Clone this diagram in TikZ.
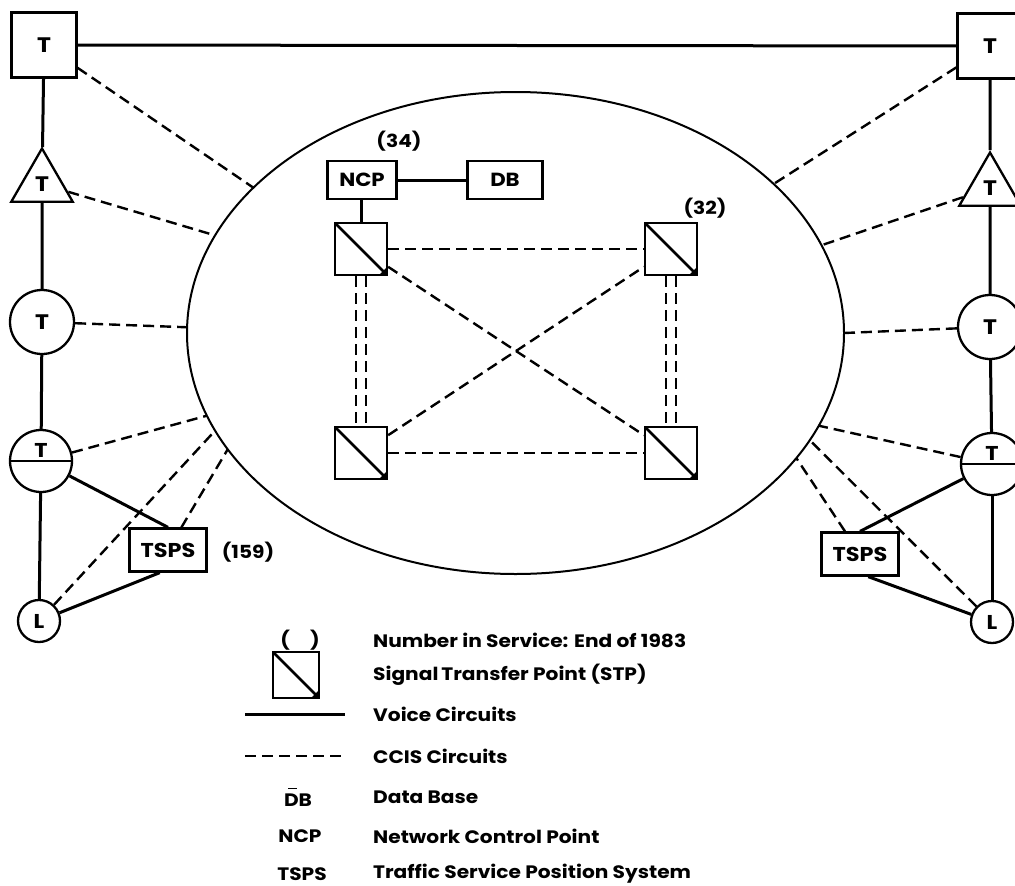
\documentclass[tikz,border=0pt]{standalone}
\usepackage{fontspec}
\setmainfont{Poppins}[FakeStretch=1.12]
\usetikzlibrary{shapes.geometric,shapes.multipart,calc}
\begin{document}
\begin{tikzpicture}[x=1pt,y=-1pt,
  voice/.style={line width=3pt},
  ccis/.style={line width=2.4pt, dash pattern=on 11pt off 6pt},
  lab/.style={font=\fontsize{18}{18}\selectfont\bfseries, inner sep=0pt},
  tsq/.style={draw, line width=2.3pt, minimum size=65pt, inner sep=0pt, font=\fontsize{21}{21}\selectfont\bfseries},
  ttri/.style={draw, line width=2.3pt, regular polygon, regular polygon sides=3, minimum size=71pt, inner sep=0pt, font=\fontsize{21}{21}\selectfont\bfseries},
  tcirc/.style={draw, line width=2.3pt, circle, minimum size=64pt, inner sep=0pt, font=\fontsize{21}{21}\selectfont\bfseries},
  tsplit/.style={draw, line width=2.3pt, circle split, minimum size=62pt, inner sep=2pt, font=\fontsize{20}{20}\selectfont\bfseries},
  lcirc/.style={draw, line width=2.3pt, circle, minimum size=42pt, inner sep=0pt, font=\fontsize{20}{20}\selectfont\bfseries},
  tspsbox/.style={draw, line width=2.3pt, minimum width=77pt, minimum height=43pt, inner sep=0pt, font=\fontsize{20}{20}\selectfont\bfseries},
  smallbox/.style={draw, line width=2.3pt, minimum height=38pt, inner sep=0pt, font=\fontsize{19}{19}\selectfont\bfseries},
  stpbox/.style={draw, line width=2.3pt, minimum size=52pt, inner sep=0pt,
    path picture={
      \draw[line width=2.6pt] (path picture bounding box.north west) -- (path picture bounding box.south east);
      \fill (path picture bounding box.south east) -- ++(-8pt,0pt) -- ++(8pt,8pt) -- cycle;
    }},
  legtext/.style={anchor=west, font=\fontsize{18}{18}\selectfont\bfseries, inner sep=0pt},
]
\useasboundingbox (0,0) rectangle (1015,886);

% central ellipse
\node[draw, ellipse, line width=2pt, minimum width=657pt, minimum height=482pt, inner sep=0pt, outer sep=0pt] (ell) at (515.5,333) {};

% left column
\node[tsq] (tsqL) at (44,45) {T};
\node[ttri] (triL) at (42,184) {T};
\node[tcirc] (circL) at (42,322) {T};
\node[tsplit] (splitL) at (41,461) {T\nodepart{lower}\phantom{T}};
\node[lcirc] (lL) at (39,621) {L};
\node[tspsbox] (tspsL) at (168,550) {TSPS};
\node[lab] (n159) at (248,552) {(159)};

% right column
\node[tsq] (tsqR) at (990,46) {T};
\node[ttri] (triR) at (990,188) {T};
\node[tcirc] (circR) at (990,327) {T};
\node[tsplit] (splitR) at (992,464) {T\nodepart{lower}\phantom{T}};
\node[lcirc] (lR) at (992,622) {L};
\node[tspsbox] (tspsR) at (860,554) {TSPS};

% voice circuits
\draw[voice] (tsqL) -- (tsqR);
\draw[voice] (tsqL) -- (triL);
\draw[voice] (triL) -- (circL);
\draw[voice] (circL) -- (splitL);
\draw[voice] (splitL) -- (lL);
\draw[voice] (splitL) -- (tspsL.north);
\draw[voice] (tspsL.250) -- (lL);
\draw[voice] (tsqR) -- (triR);
\draw[voice] (triR) -- (circR);
\draw[voice] (circR) -- (splitR);
\draw[voice] (splitR) -- (lR);
\draw[voice] (splitR) -- (tspsR.north);
\draw[voice] (tspsR.290) -- (lR);

% CCIS circuits to the ellipse
\draw[ccis] (tsqL) -- (ell.151.4);
\draw[ccis] (triL) -- (ell.162.6);
\draw[ccis] (circL) -- (ell.179.1);
\draw[ccis] (splitL) -- (ell.195.7);
\draw[ccis] (lL) -- (ell.198.2);
\draw[ccis] (tspsL) -- (ell.202.5);
\draw[ccis] (tsqR) -- (ell.30);
\draw[ccis] (triR) -- (ell.16.1);
\draw[ccis] (circR) -- (ell.0);
\draw[ccis] (splitR) -- (ell.343.6);
\draw[ccis] (lR) -- (ell.340.7);
\draw[ccis] (tspsR) -- (ell.336.1);

% inside the ellipse
\node[smallbox, minimum width=69pt] (ncp) at (362,180) {NCP};
\node[smallbox, minimum width=75pt] (db) at (505,180) {DB};
\node[lab] (n34) at (399,141) {(34)};
\node[stpbox] (stpTL) at (361,249) {};
\node[stpbox] (stpTR) at (671,249) {};
\node[stpbox] (stpBL) at (361,453) {};
\node[stpbox] (stpBR) at (671,453) {};
\node[lab] (n32) at (705,208) {(32)};
\draw[voice] (ncp) -- (db);
\draw[voice] (ncp.south -| stpTL.north) -- (stpTL.north);
\draw[ccis] (stpTL) -- (stpTR);
\draw[ccis] (stpBL) -- (stpBR);
\draw[ccis] (stpTL) -- (stpBR);
\draw[ccis] (stpBL) -- (stpTR);
\draw[ccis] ([xshift=-5pt]stpTL.south) -- ([xshift=-5pt]stpBL.north);
\draw[ccis] ([xshift=5pt]stpTL.south) -- ([xshift=5pt]stpBL.north);
\draw[ccis] ([xshift=-5pt]stpTR.south) -- ([xshift=-5pt]stpBR.north);
\draw[ccis] ([xshift=5pt]stpTR.south) -- ([xshift=5pt]stpBR.north);

% legend
\node[lab] (legpar) at (300,640) {(\hspace{20pt})};
\node[stpbox, minimum size=46pt] (legstp) at (296,675) {};
\coordinate (v1) at (245,714);
\coordinate (v2) at (345,714);
\draw[voice] (v1) -- (v2);
\coordinate (c1) at (245,756);
\coordinate (c2) at (345,756);
\draw[ccis] (c1) -- (c2);
\node[lab] (legdb) at (298,797) {\makebox[0pt][l]{\hspace{4pt}\raisebox{17pt}{\rule{9pt}{1.2pt}}}DB};
\node[lab] (legncp) at (300,836) {NCP};
\node[lab] (legtsps) at (302,874) {TSPS};
\node[legtext] (t1) at (373,640) {Number in Service: End of 1983};
\node[legtext] (t2) at (373,675) {Signal\,Transfer Point (STP)};
\node[legtext] (t3) at (373,714) {Voice Circuits};
\node[legtext] (t4) at (373,756) {CCIS Circuits};
\node[legtext] (t5) at (373,797) {Data Base};
\node[legtext] (t6) at (373,836) {Network Control Point};
\node[legtext] (t7) at (373,874) {Traffic Service Position System};
\end{tikzpicture}
\end{document}
